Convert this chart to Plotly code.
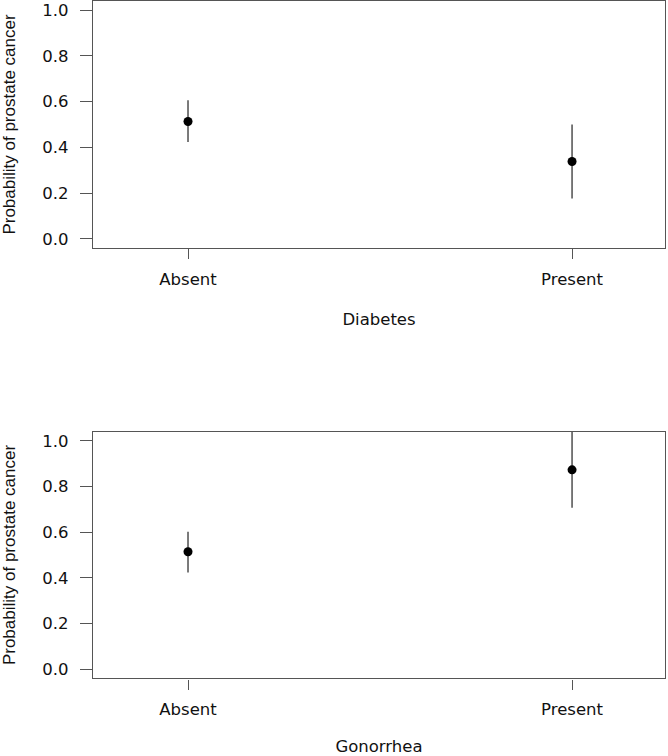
import plotly.graph_objects as go

categories = ["Absent", "Present"]

diab_est = [0.513, 0.338]
diab_lo = [0.424, 0.176]
diab_hi = [0.606, 0.500]

gono_est = [0.514, 0.873]
gono_lo = [0.423, 0.707]
gono_hi = [0.602, 1.039]

y_ticks = [0.0, 0.2, 0.4, 0.6, 0.8, 1.0]
y_ticktext = ["0.0", "0.2", "0.4", "0.6", "0.8", "1.0"]

panels = [("Diabetes", diab_est, diab_lo, diab_hi),
          ("Gonorrhea", gono_est, gono_lo, gono_hi)]

W, H = 668, 756
LINE_COL = "#555555"
TXT_FONT = dict(family="DejaVu Sans", size=16.5, color="#111111")
TITLE_Y_FONT = dict(family="Liberation Sans, Arial", size=17, color="#111111")

fig = go.Figure()

x_dom = [93 / W, 665 / W]
y_doms = [[1 - 248 / H, 1 - 1 / H], [1 - 678.3 / H, 1 - 431.7 / H]]

for i, (name, est, lo, hi) in enumerate(panels):
    sfx = "" if i == 0 else str(i + 1)
    xs, ys = [], []
    for c, l, h in zip(categories, lo, hi):
        xs += [c, c, None]
        ys += [l, h, None]
    fig.add_trace(go.Scatter(x=xs, y=ys, mode="lines",
                             line=dict(color="#5a5a5a", width=1.6),
                             xaxis="x" + sfx, yaxis="y" + sfx,
                             showlegend=False, hoverinfo="skip"))
    fig.add_trace(go.Scatter(x=categories, y=est, mode="markers",
                             marker=dict(color="black", size=9),
                             xaxis="x" + sfx, yaxis="y" + sfx,
                             showlegend=False))

    axis_common = dict(showline=True, mirror=True, linecolor=LINE_COL, linewidth=1.4,
                       ticks="outside", tickcolor=LINE_COL, tickwidth=1.3,
                       showgrid=False, zeroline=False, automargin=False,
                       tickfont=TXT_FONT)
    fig.update_layout(**{
        "xaxis" + sfx: dict(axis_common, domain=x_dom, type="category",
                            categoryorder="array", categoryarray=categories,
                            range=[-0.2474, 1.242], ticklen=10,
                            ticklabelstandoff=6,
                            anchor="y" + sfx,
                            title=dict(text=name, font=TXT_FONT, standoff=25)),
        "yaxis" + sfx: dict(axis_common, domain=y_doms[i], range=[-0.04, 1.04],
                            tickvals=y_ticks, ticktext=y_ticktext, ticklen=12,
                            ticklabelstandoff=8,
                            anchor="x" + sfx,
                            title=dict(text="Probability of prostate cancer",
                                       font=TITLE_Y_FONT, standoff=22)),
    })

fig.update_layout(width=W, height=H, margin=dict(l=0, r=0, t=0, b=0),
                  plot_bgcolor="white", paper_bgcolor="white")

fig.write_html("out.html")
